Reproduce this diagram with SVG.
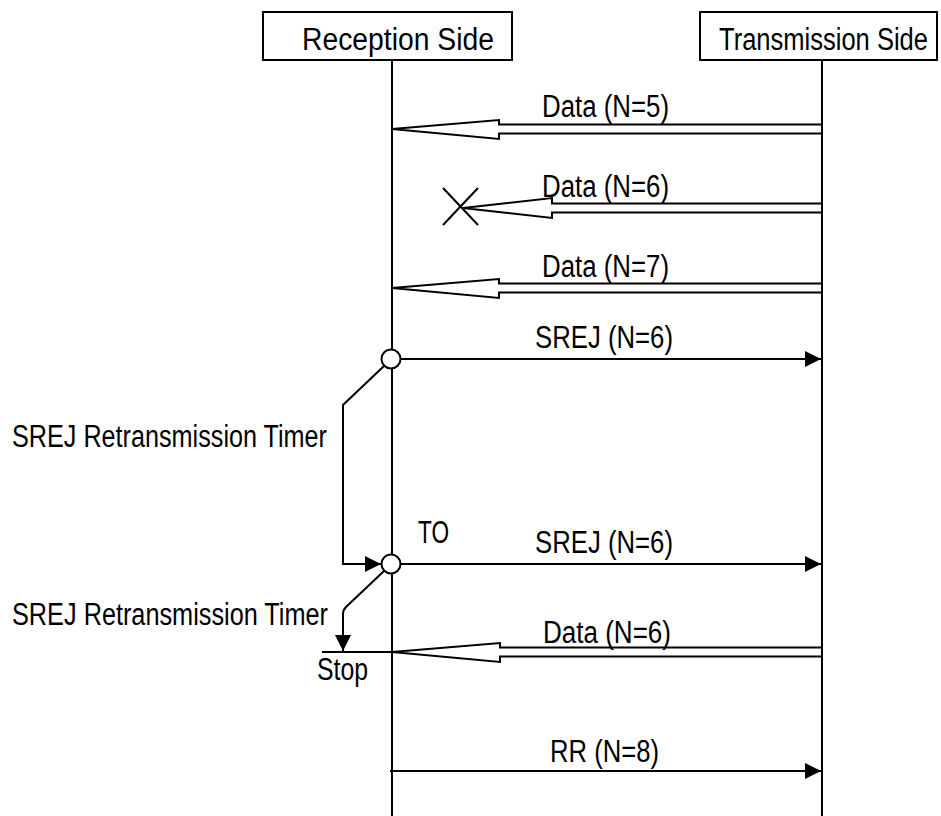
<svg xmlns="http://www.w3.org/2000/svg" width="941" height="816" viewBox="0 0 941 816">
<style>
.t{font-family:"Liberation Sans",Arial,sans-serif;font-size:31px;fill:#000}
.ln{stroke:#000;stroke-width:2;fill:none}
.box{stroke:#000;stroke-width:2;fill:#fff}
.hollow{stroke:#000;stroke-width:2;fill:#fff;stroke-linejoin:miter}
</style>
<defs>
<marker id="ah" markerUnits="userSpaceOnUse" markerWidth="18" markerHeight="18" refX="16" refY="8" orient="auto">
<path d="M0,0 L16,8 L0,16 Z" fill="#000"/>
</marker>
</defs>
<rect width="941" height="816" fill="#fff"/>
<g id="reception">
<line class="ln" x1="392" y1="60" x2="392" y2="816"/>
<rect class="box" x="263" y="12" width="249" height="48"/>
<text class="t" x="302" y="50" textLength="192" lengthAdjust="spacingAndGlyphs">Reception Side</text>
</g>
<g id="transmission">
<line class="ln" x1="822" y1="60" x2="822" y2="816"/>
<rect class="box" x="700" y="12" width="237" height="48"/>
<text class="t" x="719" y="50" textLength="209" lengthAdjust="spacingAndGlyphs">Transmission Side</text>
</g>
<g id="connectors">
<polygon class="hollow" points="392,129 499,120 499,124.5 822,124.5 822,133.5 499,133.5 499,139"/>
<text class="t" x="542" y="117" textLength="127" lengthAdjust="spacingAndGlyphs">Data (N=5)</text>
<polygon class="hollow" points="463,208 552,198 552,203.5 822,203.5 822,212.5 552,212.5 552,218"/>
<line class="ln" x1="443" y1="188" x2="478" y2="225"/>
<line class="ln" x1="478" y1="188" x2="443" y2="225"/>
<text class="t" x="542" y="197" textLength="127" lengthAdjust="spacingAndGlyphs">Data (N=6)</text>
<polygon class="hollow" points="392,288 499,279 499,283.5 822,283.5 822,292.5 499,292.5 499,298"/>
<text class="t" x="542" y="277" textLength="127" lengthAdjust="spacingAndGlyphs">Data (N=7)</text>
<line class="ln" x1="401" y1="359" x2="821" y2="359" marker-end="url(#ah)"/>
<text class="t" x="535" y="348" textLength="138" lengthAdjust="spacingAndGlyphs">SREJ (N=6)</text>
<path class="ln" d="M384,366 L343,405 L343,564 L381,564" marker-end="url(#ah)"/>
<text class="t" x="12" y="447" textLength="315" lengthAdjust="spacingAndGlyphs">SREJ Retransmission Timer</text>
<circle cx="391" cy="359" r="9.5" class="box"/>
<line class="ln" x1="401" y1="564" x2="821" y2="564" marker-end="url(#ah)"/>
<text class="t" x="418" y="543" textLength="31" lengthAdjust="spacingAndGlyphs">TO</text>
<text class="t" x="535" y="553" textLength="138" lengthAdjust="spacingAndGlyphs">SREJ (N=6)</text>
<path class="ln" d="M384,571 L346,607 Q343,610 343,614 L343,651" marker-end="url(#ah)"/>
<circle cx="391" cy="564" r="9.5" class="box"/>
<text class="t" x="12" y="625" textLength="316" lengthAdjust="spacingAndGlyphs">SREJ Retransmission Timer</text>
<line class="ln" x1="322" y1="652" x2="392" y2="652"/>
<text class="t" x="317" y="680" textLength="51" lengthAdjust="spacingAndGlyphs">Stop</text>
<polygon class="hollow" points="392,652 500,643 500,647.5 822,647.5 822,656.5 500,656.5 500,662"/>
<text class="t" x="543" y="643" textLength="128" lengthAdjust="spacingAndGlyphs">Data (N=6)</text>
<line class="ln" x1="390" y1="771" x2="821" y2="771" marker-end="url(#ah)"/>
<text class="t" x="550" y="762" textLength="109" lengthAdjust="spacingAndGlyphs">RR (N=8)</text>
</g>
</svg>
